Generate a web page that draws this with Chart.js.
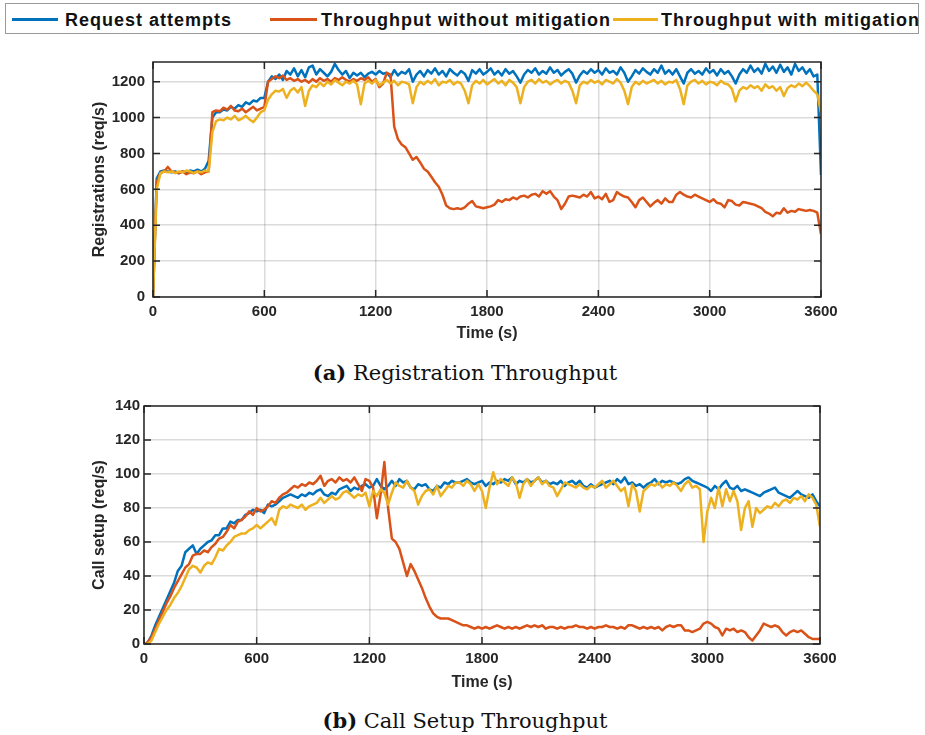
<!DOCTYPE html>
<html lang="en">
<head>
<meta charset="UTF-8">
<title>Throughput</title>
<style>
  body { margin: 0; background: #fff; width: 925px; height: 735px; position: relative; overflow: hidden; }
  .abs { position: absolute; }
  #legend { left: 5px; top: 3px; width: 914px; height: 31px; border: 1px solid #9a9a9a; box-sizing: border-box; }
  .lline { position: absolute; height: 3px; top: 18px; }
  .ltext { position: absolute; top: 10px; font: bold 18px 'Liberation Sans', Arial, sans-serif; letter-spacing: 1px; line-height: 20px; color: #111; white-space: nowrap; }
  .caption { left: 0; width: 930px; text-align: center; font: 21px 'DejaVu Serif', serif; line-height: 24px; color: #111; }
</style>
</head>
<body>

<script src="https://cdn.jsdelivr.net/npm/chart.js"></script>

<div id="legend" class="abs"></div>
<div class="lline" style="left:12px;width:46px;background:#0072BD"></div>
<div class="ltext" style="left:65px">Request attempts</div>
<div class="lline" style="left:270px;width:47px;background:#D95319"></div>
<div class="ltext" style="left:321px">Throughput without mitigation</div>
<div class="lline" style="left:613px;width:45px;background:#EDB120"></div>
<div class="ltext" style="left:661px">Throughput with mitigation</div>

<canvas id="regChart" class="abs" width="850" height="305" style="left:0;top:45px"></canvas>
<div class="abs caption" style="top:361px"><b>(a)</b> Registration Throughput</div>

<canvas id="callChart" class="abs" width="850" height="305" style="left:0;top:393px"></canvas>
<div class="abs caption" style="top:709px"><b>(b)</b> Call Setup Throughput</div>

<script>
    // samples every 20 s, 0..3600
    const STEP = 20
    const time = Array.from({length: 181}, (_, i) => i * STEP)
    const timeTicks = [0, 600, 1200, 1800, 2400, 3000, 3600]
    const regTicks = [0, 200, 400, 600, 800, 1000, 1200]
    const callTicks = [0, 20, 40, 60, 80, 100, 120, 140]

    // registrations (req/s)
    const regAttempts = [
        0, 660, 700, 705, 700, 695, 700, 690, 700, 695,
        705, 700, 710, 700, 715, 760, 1000, 1030, 1030, 1045,
        1040, 1060, 1050, 1070, 1060, 1085, 1075, 1095, 1090, 1110,
        1110, 1200, 1230, 1215, 1240, 1210, 1260, 1240, 1275, 1230,
        1265, 1225, 1280, 1290, 1240, 1270, 1250, 1230, 1255, 1300,
        1265, 1240, 1260, 1220, 1250, 1235, 1250, 1225, 1245, 1255,
        1240, 1260, 1245, 1250, 1225, 1265, 1235, 1255, 1245, 1270,
        1200, 1240, 1260, 1230, 1265, 1245, 1275, 1240, 1260, 1230,
        1270, 1250, 1235, 1260, 1245, 1205, 1265, 1245, 1270, 1240,
        1255, 1275, 1240, 1260, 1235, 1270, 1245, 1260, 1230, 1195,
        1240, 1265, 1250, 1275, 1240, 1260, 1245, 1280, 1250, 1265,
        1235, 1255, 1270, 1245, 1195, 1235, 1260, 1245, 1270, 1250,
        1265, 1240, 1275, 1250, 1260, 1240, 1280, 1250, 1200, 1230,
        1265, 1245, 1275, 1255, 1240, 1270, 1250, 1290, 1245, 1265,
        1240, 1270, 1230, 1190, 1250, 1270, 1245, 1260, 1240, 1275,
        1250, 1265, 1235, 1270, 1245, 1260, 1230, 1190, 1240, 1270,
        1250, 1290, 1255, 1275, 1245, 1300, 1260, 1285, 1250, 1295,
        1255, 1280, 1240, 1300, 1260, 1280, 1245, 1270, 1230, 1240,
        680
    ]
    const regNoMitigation = [
        0, 640, 690, 700, 725, 700, 695, 690, 700, 685,
        695, 690, 700, 685, 695, 700, 1030, 1040, 1035, 1055,
        1045, 1065, 1040, 1035, 1050, 1030, 1045, 1060, 1040, 1050,
        1060, 1200, 1215, 1230, 1220, 1235, 1210, 1220, 1205, 1215,
        1200, 1210, 1195, 1215, 1200, 1220, 1205, 1215, 1200, 1220,
        1210, 1225, 1210, 1200, 1215, 1205, 1220, 1210, 1225, 1200,
        1215, 1170, 1190, 1250, 1240, 950, 880, 850, 835, 800,
        765, 780, 750, 715, 700, 670, 640, 615, 570, 510,
        495, 490, 495, 490, 500, 520, 535, 505, 500, 495,
        500, 505, 515, 540, 530, 545, 540, 555, 545, 560,
        565, 555, 570, 575, 560, 590, 575, 590, 560, 540,
        490, 520, 560, 565, 560, 555, 570, 560, 585, 550,
        560, 545, 575, 530, 540, 585, 570, 560, 555, 530,
        500, 540, 555, 530, 505, 525, 540, 520, 550, 530,
        530, 570, 585, 570, 560, 555, 570, 560, 550, 540,
        530, 545, 525, 520, 500, 540, 535, 515, 510, 530,
        525, 520, 515, 505, 495, 475, 465, 450, 470, 465,
        495, 470, 480, 475, 490, 485, 480, 485, 480, 470,
        350
    ]
    const regWithMitigation = [
        0, 600, 690, 700, 695, 700, 690, 700, 695, 705,
        700, 690, 700, 695, 705, 700, 920, 980, 990, 985,
        1000, 990, 1010, 985, 995, 1010, 990, 975, 1000, 1030,
        1040, 1100, 1130, 1150, 1145, 1160, 1110, 1150, 1165, 1140,
        1170, 1065, 1150, 1180, 1170, 1195, 1175, 1200, 1185, 1210,
        1195, 1180, 1200, 1190, 1205, 1185, 1075, 1190, 1205, 1190,
        1210, 1180, 1195, 1210, 1190, 1205, 1180, 1200, 1195, 1185,
        1080, 1170, 1200, 1185, 1205, 1190, 1215, 1180, 1200, 1195,
        1210, 1185, 1200, 1190, 1150, 1080, 1180, 1205, 1190, 1210,
        1185, 1200, 1215, 1190, 1205, 1180, 1210, 1195, 1170, 1080,
        1170, 1200, 1210, 1190, 1215, 1195, 1205, 1185, 1200, 1210,
        1190, 1205, 1195, 1150, 1080, 1180, 1200, 1190, 1210, 1195,
        1205, 1185, 1210, 1200, 1190, 1215, 1195, 1150, 1075, 1170,
        1200, 1185, 1205, 1190, 1200, 1210, 1190, 1205, 1185, 1200,
        1195, 1210, 1160, 1075, 1180, 1200, 1210, 1190, 1205, 1185,
        1200, 1195, 1180, 1205, 1190, 1185, 1160, 1090, 1150, 1170,
        1160, 1180, 1165, 1175, 1150, 1185, 1165, 1175, 1150, 1170,
        1120, 1165, 1180, 1170, 1190, 1175, 1195, 1175, 1150, 1130,
        1030
    ]

    // call setup (req/s)
    const callAttempts = [
        0, 1, 5, 11, 16, 21, 26, 31, 36, 43,
        46, 54, 56, 58, 53, 56, 58, 60, 61, 64,
        64, 68, 68, 72, 71, 73, 73, 76, 77, 79,
        78, 79, 77, 82, 81, 82, 84, 86, 87, 88,
        87, 86, 88, 87, 89, 88, 90, 91, 88, 87,
        89, 88, 91, 92, 93, 90, 92, 91, 93, 94,
        92, 93, 97, 93, 91, 93, 96, 93, 97, 95,
        96, 92, 91, 94, 93, 94, 91, 90, 93, 92,
        95, 94, 96, 95, 95, 96, 97, 95, 94, 95,
        96, 93, 95, 94, 96, 95, 97, 96, 98, 94,
        96, 95, 97, 95, 96, 98, 95, 96, 94, 95,
        94, 96, 93, 95, 96, 94, 96, 93, 92, 94,
        92, 93, 94, 95, 96, 94, 97, 95, 98, 94,
        95, 93, 94, 92, 94, 95, 97, 94, 96, 95,
        96, 95, 94, 95, 97, 98, 96, 95, 94, 93,
        92, 90, 93, 91, 94, 96, 92, 91, 93, 90,
        91, 90, 89, 88, 87, 89, 90, 91, 92, 89,
        88, 87, 86, 88, 90, 88, 87, 86, 88, 84,
        81
    ]
    const callNoMitigation = [
        0, 1, 4, 9, 14, 19, 24, 28, 33, 37,
        41, 45, 47, 52, 53, 53, 55, 54, 57, 59,
        62, 63, 66, 70, 68, 72, 73, 75, 78, 76,
        80, 78, 79, 81, 84, 83, 86, 88, 89, 91,
        93, 92, 94, 93, 95, 94, 96, 99, 93, 96,
        97, 95, 98, 96, 97, 95, 98, 94, 90, 97,
        96, 92, 74, 88, 107, 80, 62, 60, 56, 48,
        40, 47, 43, 38, 33, 27, 22, 18, 16, 15,
        15, 15, 14, 13, 12, 11, 11, 10, 9, 10,
        9, 10, 9, 10, 11, 10, 9, 10, 9, 10,
        9, 10, 11, 10, 11, 10, 11, 9, 10, 10,
        9, 10, 9, 10, 10, 11, 10, 10, 9, 10,
        9, 10, 10, 11, 10, 10, 9, 10, 9, 11,
        11, 10, 9, 10, 9, 10, 9, 10, 8, 10,
        11, 10, 11, 11, 8, 8, 7, 8, 9, 12,
        13, 12, 10, 9, 5, 9, 8, 9, 7, 8,
        7, 4, 2, 5, 8, 12, 11, 10, 11, 10,
        7, 5, 7, 8, 7, 8, 6, 4, 3, 3,
        3
    ]
    const callWithMitigation = [
        0, 0, 2, 7, 12, 16, 20, 23, 27, 30,
        34, 39, 44, 46, 45, 42, 46, 48, 47, 51,
        56, 55, 58, 60, 63, 64, 65, 65, 67, 68,
        70, 68, 70, 72, 74, 70, 79, 81, 80, 82,
        81, 80, 82, 79, 81, 82, 83, 86, 83, 85,
        87, 85, 86, 89, 90, 88, 86, 88, 87, 89,
        81, 90, 87, 91, 89, 82, 89, 95, 93, 92,
        96, 92, 90, 82, 87, 90, 91, 88, 93, 87,
        90, 93, 92, 95, 95, 93, 96, 94, 90, 94,
        90, 80, 92, 101, 94, 97, 95, 93, 98, 95,
        86, 94, 97, 93, 96, 98, 94, 96, 93, 92,
        87, 91, 95, 94, 93, 92, 94, 92, 91, 93,
        92, 94, 96, 92, 94, 96, 93, 90, 92, 81,
        94, 90, 78, 90, 92, 94, 93, 95, 92, 94,
        93, 95, 93, 90, 94, 96, 92, 93, 91, 60,
        78, 86, 80, 92, 81, 91, 84, 90, 84, 67,
        80, 84, 69, 80, 77, 79, 81, 80, 83, 81,
        84, 85, 83, 86, 85, 87, 84, 88, 86, 82,
        69
    ]

    const BLUE = '#0072BD', RED = '#D95319', YELLOW = '#EDB120'
    const AXIS = '#262626'
    Chart.defaults.font.family = "'Liberation Sans', Arial, sans-serif"
    Chart.defaults.color = AXIS

    // matlab style box with inward ticks on all four sides
    const axesBox = {
        id: 'axesBox',
        afterDatasetsDraw(chart) {
            const ctx = chart.ctx, a = chart.chartArea
            const x = chart.scales.x, y = chart.scales.y
            ctx.save()
            ctx.strokeStyle = AXIS
            ctx.lineWidth = 1.5
            ctx.beginPath()
            x.ticks.forEach(t => {
                const px = x.getPixelForValue(t.value)
                ctx.moveTo(px, a.bottom); ctx.lineTo(px, a.bottom - 7)
                ctx.moveTo(px, a.top); ctx.lineTo(px, a.top + 7)
            })
            y.ticks.forEach(t => {
                const py = y.getPixelForValue(t.value)
                ctx.moveTo(a.left, py); ctx.lineTo(a.left + 7, py)
                ctx.moveTo(a.right, py); ctx.lineTo(a.right - 7, py)
            })
            ctx.stroke()
            ctx.strokeRect(a.left, a.top, a.right - a.left, a.bottom - a.top)
            ctx.restore()
        }
    }

    function line(data, color, order) {
        return {data: data, borderColor: color, borderWidth: 2.5, pointRadius: 0,
                tension: 0, borderJoinStyle: 'round', order: order}
    }

    // plain numbers on the axes, no thousands separator
    const plain = v => String(v)

    function drawPanel(id, series, yTicks, yMax, yTitle, o) {
        return new Chart(document.getElementById(id), {
            type: 'line',
            data: {
                labels: time,
                datasets: [line(series[0], BLUE, 3), line(series[1], RED, 2), line(series[2], YELLOW, 1)]
            },
            options: {
                responsive: false,
                animation: false,
                events: [],
                layout: {padding: o.padding},
                plugins: {legend: {display: false}, tooltip: {enabled: false}},
                scales: {
                    x: {
                        type: 'linear', min: 0, max: 3600,
                        afterBuildTicks: s => { s.ticks = timeTicks.map(v => ({value: v})) },
                        afterFit: s => { s.height = 48 },
                        grid: {color: 'rgba(0,0,0,0.14)', lineWidth: 1.5, drawTicks: false},
                        border: {display: false},
                        ticks: {font: {size: 15, weight: 'bold'}, padding: 6, maxRotation: 0, color: AXIS, callback: plain},
                        title: {display: true, text: 'Time (s)', font: {size: 16, weight: 'bold'},
                                padding: {top: 0, bottom: o.xTitlePad}, color: AXIS}
                    },
                    y: {
                        min: 0, max: yMax,
                        afterBuildTicks: s => { s.ticks = yTicks.map(v => ({value: v})) },
                        afterFit: s => { s.width = o.yWidth },
                        grid: {color: 'rgba(0,0,0,0.14)', lineWidth: 1.5, drawTicks: false},
                        border: {display: false},
                        ticks: {font: {size: 15, weight: 'bold'}, padding: o.yTickPad, color: AXIS, callback: plain},
                        title: {display: true, text: yTitle, font: {size: 16, weight: 'bold'},
                                padding: {top: 2, bottom: 0}, color: AXIS}
                    }
                }
            },
            plugins: [axesBox]
        })
    }

    drawPanel('regChart', [regAttempts, regNoMitigation, regWithMitigation], regTicks, 1310,
        'Registrations (req/s)',
        {padding: {left: 88, right: 29, top: 8, bottom: 5}, yWidth: 65, yTickPad: 8, xTitlePad: 2})

    drawPanel('callChart', [callAttempts, callNoMitigation, callWithMitigation], callTicks, 140,
        'Call setup (req/s)',
        {padding: {left: 88, right: 30, top: 9, bottom: 6}, yWidth: 56, yTickPad: 4, xTitlePad: 0})
</script>

</body>
</html>
